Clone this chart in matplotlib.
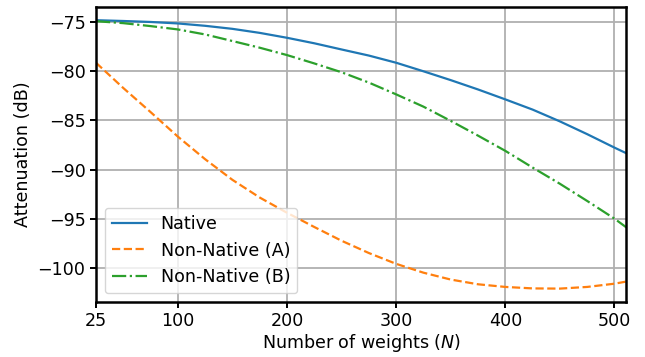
import matplotlib.pyplot as plt
import numpy as np

# antall vekter N og demping (dB) lest av figuren
N = [25, 50, 75, 100, 125, 150, 175, 200, 225, 250, 275, 300,
     325, 350, 375, 400, 425, 450, 475, 500, 511]

native = [-74.80, -74.88, -74.98, -75.13, -75.37, -75.68, -76.09, -76.59,
          -77.15, -77.78, -78.40, -79.13, -80.00, -80.90, -81.85, -82.86,
          -83.90, -85.10, -86.40, -87.77, -88.35]

non_native_a = [-79.13, -81.70, -84.15, -86.65, -88.95, -91.05, -92.85, -94.40,
                -95.85, -97.25, -98.50, -99.60, -100.50, -101.20, -101.68,
                -101.95, -102.10, -102.12, -101.95, -101.62, -101.40]

non_native_b = [-74.90, -75.10, -75.40, -75.74, -76.25, -76.92, -77.60, -78.35,
                -79.20, -80.10, -81.15, -82.35, -83.60, -85.05, -86.55, -88.10,
                -89.80, -91.45, -93.20, -95.00, -95.90]

xticks = [25, 100, 200, 300, 400, 500]

plt.rcParams['font.size'] = 12.6

fig = plt.figure(figsize=(6.45, 3.57), dpi=100)
ax = fig.add_axes([0.1488, 0.154, 0.9713 - 0.1488, 0.981 - 0.154])

ax.plot(N, native, '-', color='tab:blue', lw=1.6, label='Native')
ax.plot(N, non_native_a, '--', color='tab:orange', lw=1.6, label='Non-Native (A)')
ax.plot(N, non_native_b, '-.', color='tab:green', lw=1.6, label='Non-Native (B)')

ax.set_xlim(25, 511)
ax.set_xticks(xticks)
ax.grid(True, color='#b0b0b0', lw=1.3)
for s in ax.spines.values():
    s.set_linewidth(1.8)
ax.tick_params(width=1.4, length=4.5, pad=3)

ax.set_xlabel('Number of weights ($N$)', labelpad=1)
ax.set_ylabel('Attenuation (dB)')
ax.legend(loc='lower left')

fig.savefig('out.png', dpi=100)
